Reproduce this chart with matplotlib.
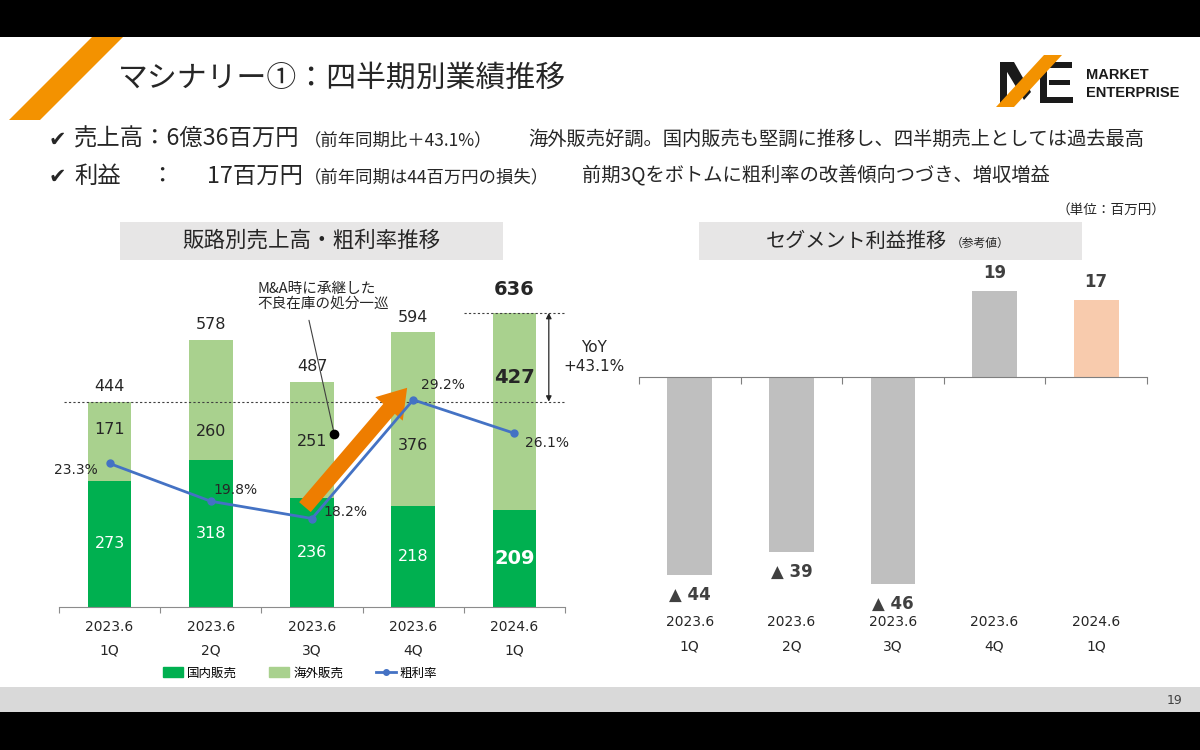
import numpy as np
import matplotlib
matplotlib.use("Agg")
import matplotlib.pyplot as plt
from matplotlib.patches import Polygon, Rectangle, Patch
from matplotlib.lines import Line2D

plt.rcParams['font.family'] = ['DejaVu Sans', 'Noto Sans CJK JP']
JP = ['Noto Sans CJK JP', 'DejaVu Sans']

# ---- data ----
period = ['2023.6', '2023.6', '2023.6', '2023.6', '2024.6']
quarter = ['1Q', '2Q', '3Q', '4Q', '1Q']
domestic = [273, 318, 236, 218, 209]      # 国内販売
overseas = [171, 260, 251, 376, 427]      # 海外販売
gross_margin = [23.3, 19.8, 18.2, 29.2, 26.1]   # 粗利率 %
segment_profit = [-44, -39, -46, 19, 17]  # セグメント利益
yoy_label = 'YoY\n+43.1%'

# label nudges (pixels), purely layout
overseas_lbl_dy = [12, -32, -2, -26, 34]
margin_lbl_off = [(-12, -7, 'right'), (3, 11, 'left'), (11, 7, 'left'),
                  (8, 15, 'left'), (11, -10, 'left')]

W, H = 1200, 750
C_DOM = '#00B050'
C_OVS = '#A9D18E'
C_LINE = '#4472C4'
C_TXT = '#262626'
C_ORANGE = '#F39200'


def fx(px):
    return px / W


def fy(py):
    return 1 - py / H


def poly(fig, pts, color, z=1):
    p = Polygon([(fx(a), fy(b)) for a, b in pts], closed=True,
                transform=fig.transFigure, facecolor=color, edgecolor='none', zorder=z)
    fig.patches.append(p)


def rect(fig, x0, y0, x1, y1, color, z=0):
    fig.patches.append(Rectangle((fx(x0), fy(y1)), fx(x1) - fx(x0), fy(y0) - fy(y1),
                                 transform=fig.transFigure, facecolor=color,
                                 edgecolor='none', zorder=z))


fig = plt.figure(figsize=(12, 7.5), dpi=100)
fig.patch.set_facecolor('white')

# slide frame
rect(fig, 0, 0, 1200, 37, 'black')
rect(fig, 0, 687, 1200, 712, '#D9D9D9')
rect(fig, 0, 712, 1200, 750, 'black')
fig.text(fx(1182), fy(700), '19', ha='right', va='center', fontsize=9, color='#404040')

# title + slash
poly(fig, [(92, 37), (123, 37), (40, 120), (9, 120)], C_ORANGE)
fig.text(fx(118), fy(78), 'マシナリー①：四半期別業績推移', family=JP, fontsize=21.5,
         color=C_TXT, va='center', ha='left')

# logo
rect(fig, 1000, 62, 1007, 103, '#1A1A1A', 1)
poly(fig, [(1001, 62), (1014, 62), (1031, 92), (1024, 100)], '#1A1A1A')
rect(fig, 1040, 62, 1047, 103, '#1A1A1A', 1)
rect(fig, 1040, 62, 1072, 68, '#1A1A1A', 1)
rect(fig, 1049, 80, 1070, 85, '#1A1A1A', 1)
rect(fig, 1040, 97, 1073, 103, '#1A1A1A', 1)
poly(fig, [(1044, 55), (1062, 55), (1014, 107), (996, 107)], C_ORANGE, 2)
fig.text(fx(1086), fy(75), 'MARKET', fontsize=10.5, weight='bold', color='#1A1A1A',
         family='Liberation Sans', va='center')
fig.text(fx(1086), fy(93), 'ENTERPRISE', fontsize=10.5, weight='bold', color='#1A1A1A',
         family='Liberation Sans', va='center')

# bullet lines
fig.text(fx(49), fy(140), '✔', fontsize=15, color=C_TXT, va='center')
fig.text(fx(74), fy(139), '売上高：6億36百万円', family=JP, fontsize=16.8, color=C_TXT, va='center')
fig.text(fx(304), fy(140), '（前年同期比＋43.1%）', family=JP, fontsize=12.5, color=C_TXT, va='center')
fig.text(fx(528), fy(139), '海外販売好調。国内販売も堅調に推移し、四半期売上としては過去最高',
         family=JP, fontsize=13.9, color=C_TXT, va='center')
fig.text(fx(49), fy(177), '✔', fontsize=15, color=C_TXT, va='center')
fig.text(fx(74), fy(176), '利益', family=JP, fontsize=16.8, color=C_TXT, va='center')
fig.text(fx(150), fy(176), '：', family=JP, fontsize=16.8, color=C_TXT, va='center')
fig.text(fx(207), fy(176), '17百万円', family=JP, fontsize=16.8, color=C_TXT, va='center')
fig.text(fx(304), fy(177), '（前年同期は44百万円の損失）', family=JP, fontsize=12.5, color=C_TXT, va='center')
fig.text(fx(582), fy(176), '前期3Qをボトムに粗利率の改善傾向つづき、増収増益',
         family=JP, fontsize=13.9, color=C_TXT, va='center')
fig.text(fx(1166), fy(210), '（単位：百万円）', family=JP, fontsize=9.8, color=C_TXT,
         ha='right', va='center')

# section headers
rect(fig, 120, 222, 503, 260, '#E7E6E6')
fig.text(fx(311), fy(241), '販路別売上高・粗利率推移', family=JP, fontsize=15.5, color=C_TXT,
         ha='center', va='center')
rect(fig, 699, 222, 1082, 260, '#E7E6E6')
fig.text(fx(947), fy(241), 'セグメント利益推移', family=JP, fontsize=14.5, color=C_TXT,
         ha='right', va='center')
fig.text(fx(951), fy(243), '（参考値）', family=JP, fontsize=8.5, color=C_TXT,
         ha='left', va='center')

# ---- left chart ----
ax = fig.add_axes([fx(59), fy(607), (565 - 59) / W, (607 - 283.3) / H])
x = np.arange(len(domestic))
total = [d + o for d, o in zip(domestic, overseas)]
ax.bar(x, domestic, width=0.43, color=C_DOM, zorder=2)
ax.bar(x, overseas, bottom=domestic, width=0.43, color=C_OVS, zorder=2)
ax.set_xlim(-0.5, len(x) - 0.5)
ax.set_ylim(0, 700)
for s in ['left', 'right', 'top']:
    ax.spines[s].set_visible(False)
ax.spines['bottom'].set_color('#8C8C8C')
ax.set_yticks([])
ax.set_xticks(np.arange(-0.5, len(x), 1))
ax.tick_params(axis='x', length=4, color='#8C8C8C', labelbottom=False)

last = len(x) - 1
for i in x:
    big = i == last
    ax.annotate(str(domestic[i]), (i, domestic[i] / 2), ha='center', va='center',
                color='white', fontsize=14 if big else 11.5,
                weight='bold' if big else 'normal', zorder=5)
    ax.annotate(str(overseas[i]), (i, domestic[i] + overseas[i] / 2),
                xytext=(0, overseas_lbl_dy[i]), textcoords='offset pixels',
                ha='center', va='center', color=C_TXT,
                fontsize=14 if big else 11.5, weight='bold' if big else 'normal', zorder=5)
    ax.annotate(str(total[i]), (i, total[i]), xytext=(0, 23 if big else 15),
                textcoords='offset pixels', ha='center', va='center', color=C_TXT,
                fontsize=14 if big else 11.5, weight='bold' if big else 'normal',
                annotation_clip=False)
    ax.annotate(period[i], xy=(i, 0), xycoords=('data', 'axes fraction'), xytext=(0, -20),
                textcoords='offset pixels', ha='center', va='center', fontsize=10,
                color=C_TXT, annotation_clip=False)
    ax.annotate(quarter[i], xy=(i, 0), xycoords=('data', 'axes fraction'), xytext=(0, -43),
                textcoords='offset pixels', ha='center', va='center', fontsize=10,
                color=C_TXT, annotation_clip=False)

# reference lines for YoY
ax.hlines(total[0], -0.45, last + 0.5, colors='#404040', linestyles=(0, (2, 2)), lw=0.8, zorder=3)
ax.hlines(total[last], last - 0.5, last + 0.5, colors='#404040', linestyles=(0, (2, 2)), lw=0.8, zorder=3)
ax.annotate('', xy=(last + 0.34, total[last]), xytext=(last + 0.34, total[0]),
            arrowprops=dict(arrowstyle='<|-|>', color='#262626', lw=0.9,
                            mutation_scale=8, shrinkA=0, shrinkB=0),
            annotation_clip=False)
ax.text(last + 0.79, (total[0] + total[last]) / 2, yoy_label, ha='center',
        va='center', fontsize=11, color=C_TXT, linespacing=1.3, clip_on=False)

# gross margin line
ax2 = ax.twinx()
ax2.set_ylim(10, 40)
ax2.set_axis_off()
ax2.plot(x, gross_margin, color=C_LINE, lw=2, marker='o', ms=5, zorder=4)
for i in x:
    dx, dy, ha = margin_lbl_off[i]
    ax2.annotate('%.1f%%' % gross_margin[i], (i, gross_margin[i]), xytext=(dx, dy),
                 textcoords='offset pixels', ha=ha, va='center', fontsize=10, color=C_TXT)

# orange arrow + callout
ax.annotate('', xy=(2.94, 474), xytext=(1.93, 216),
            arrowprops=dict(arrowstyle='simple,head_length=1.0,head_width=1.3,tail_width=0.55',
                            fc='#EE7D00', ec='none', mutation_scale=20, shrinkA=0, shrinkB=0),
            zorder=6)
ax.plot([2.22], [374], 'o', color='black', ms=6, zorder=7, clip_on=False)
ax.annotate('', xy=(2.22, 374), xytext=(1.97, 620),
            arrowprops=dict(arrowstyle='-', color='#404040', lw=0.8, shrinkA=0, shrinkB=0),
            annotation_clip=False)
ax.text(1.46, 703, 'M&A時に承継した\n不良在庫の処分一巡', family=JP, fontsize=10.5,
        color=C_TXT, ha='left', va='top', linespacing=1.1, clip_on=False)

handles = [Patch(color=C_DOM), Patch(color=C_OVS),
           Line2D([], [], color=C_LINE, lw=2, marker='o', ms=4)]
fig.legend(handles, ['国内販売', '海外販売', '粗利率'], loc='center',
           bbox_to_anchor=(fx(300), fy(673)), ncol=3, frameon=False,
           prop={'family': JP, 'size': 9}, handlelength=1.6, handleheight=0.8,
           columnspacing=2.6, handletextpad=0.3)

# ---- right chart ----
bx = fig.add_axes([fx(639), fy(646.7), (1147 - 639) / W, (646.7 - 264.2) / H])
cols = ['#BFBFBF'] * (len(segment_profit) - 1) + ['#F8CBAD']
bx.bar(x, segment_profit, width=0.44, color=cols, zorder=2)
bx.set_xlim(-0.5, len(x) - 0.5)
bx.set_ylim(-60, 25)
for s in ['left', 'right', 'top']:
    bx.spines[s].set_visible(False)
bx.spines['bottom'].set_position(('data', 0))
bx.spines['bottom'].set_color('#7F7F7F')
bx.set_yticks([])
bx.set_xticks(np.arange(-0.5, len(x), 1))
bx.tick_params(axis='x', length=5, color='#7F7F7F', labelbottom=False)
for i, v in enumerate(segment_profit):
    lbl = str(v) if v >= 0 else '▲ %d' % -v
    bx.annotate(lbl, (i, v), xytext=(0, 18 if v >= 0 else -20), textcoords='offset pixels',
                ha='center', va='center', fontsize=12, weight='bold', color='#404040',
                annotation_clip=False)
    bx.annotate(period[i], xy=(i, 0), xycoords=('data', 'axes fraction'), xytext=(0, 24.5),
                textcoords='offset pixels', ha='center', va='center', fontsize=10,
                color=C_TXT, annotation_clip=False)
    bx.annotate(quarter[i], xy=(i, 0), xycoords=('data', 'axes fraction'), xytext=(0, 0.5),
                textcoords='offset pixels', ha='center', va='center', fontsize=10,
                color=C_TXT, annotation_clip=False)

fig.savefig('out.png', dpi=100)
